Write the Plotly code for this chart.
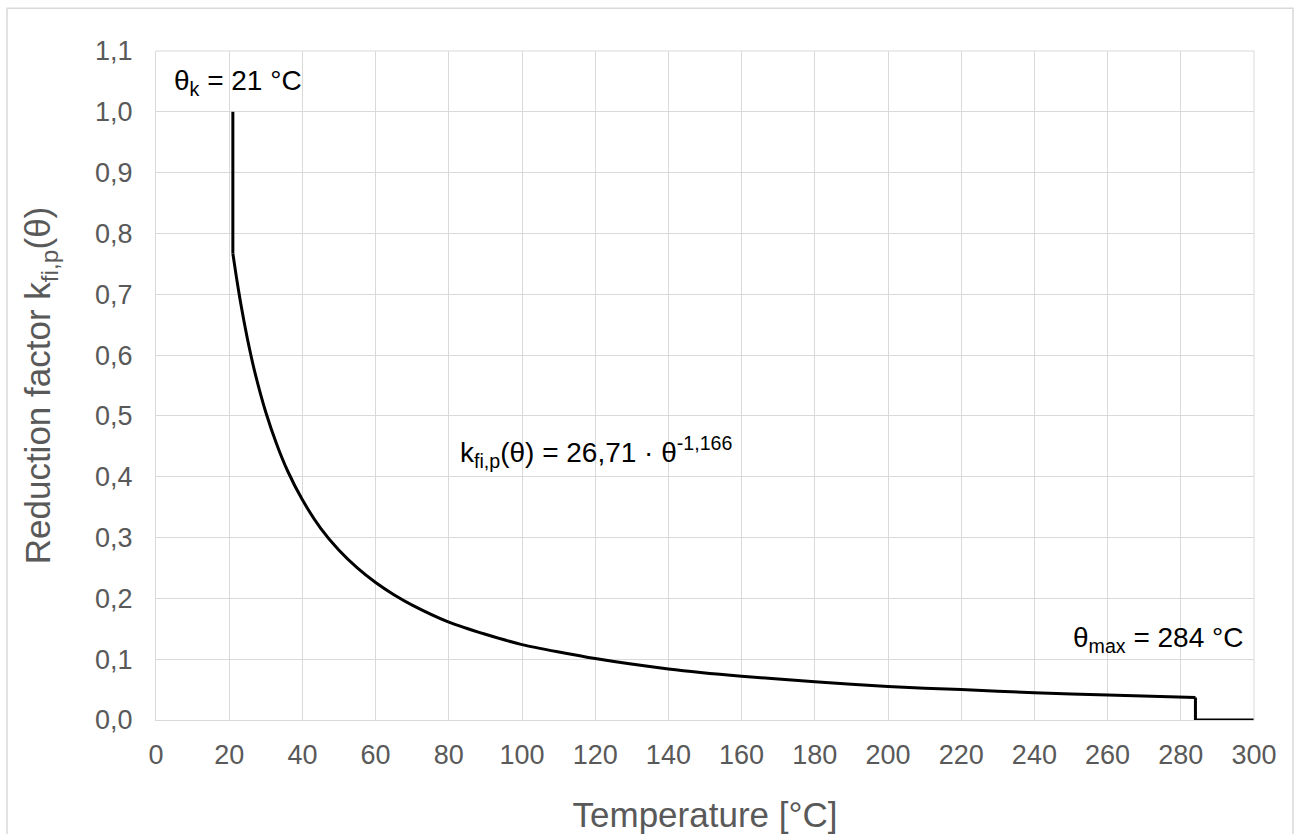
import plotly.graph_objects as go

# values (temperature in °C, reduction factor)
temp = [21, 22, 23, 24, 25, 27, 30, 33, 36, 40, 45, 50, 55, 60, 65, 70, 80, 90,
        100, 120, 140, 160, 180, 200, 220, 240, 260, 284]
k_fi = [0.767, 0.727, 0.690, 0.657, 0.626, 0.572, 0.506, 0.453, 0.409, 0.362,
        0.315, 0.279, 0.250, 0.226, 0.206, 0.189, 0.161, 0.141, 0.124, 0.101,
        0.084, 0.072, 0.063, 0.055, 0.050, 0.045, 0.041, 0.037]

# the vertical jumps at both ends of the curve
theta_k, k_start = 21, 1.0
theta_max, t_end = 284, 300

x_ticks = list(range(0, 301, 20))
y_ticks = [round(i * 0.1, 1) for i in range(12)]

FONT = "Liberation Sans, Arial, sans-serif"
GRID = "#d9d9d9"
TICK = "#595959"

fig = go.Figure()
line = dict(color="black", width=3)

# smooth part
fig.add_trace(go.Scatter(
    x=temp, y=k_fi, mode="lines",
    line=dict(line, shape="spline", smoothing=0.6),
    showlegend=False, hoverinfo="skip",
))
# step at θk
fig.add_trace(go.Scatter(
    x=[theta_k, temp[0]], y=[k_start, k_fi[0]], mode="lines",
    line=line, showlegend=False, hoverinfo="skip",
))
# drop at θmax and zero afterwards
fig.add_trace(go.Scatter(
    x=[temp[-1], theta_max, t_end], y=[k_fi[-1], 0, 0], mode="lines",
    line=line, showlegend=False, hoverinfo="skip",
))

fig.update_layout(
    width=1296,
    height=834,
    margin=dict(l=156, r=42, t=51, b=114),
    paper_bgcolor="white",
    plot_bgcolor="white",
    separators=", ",
    font=dict(family=FONT, color=TICK),
    xaxis=dict(
        range=[0, 300],
        tickvals=x_ticks,
        showgrid=True,
        gridcolor=GRID,
        gridwidth=1,
        zeroline=False,
        showline=True,
        linecolor=GRID,
        ticks="outside",
        ticklen=11,
        tickcolor="rgba(0,0,0,0)",
        tickfont=dict(size=27, color=TICK),
        automargin=False,
        title=dict(text="Temperature [°C]", font=dict(size=35, color=TICK), standoff=33),
    ),
    yaxis=dict(
        range=[0, 1.1],
        tickvals=y_ticks,
        tickformat=".1f",
        showgrid=True,
        gridcolor=GRID,
        gridwidth=1,
        zeroline=False,
        showline=True,
        linecolor=GRID,
        ticks="outside",
        ticklen=17,
        tickcolor="rgba(0,0,0,0)",
        tickfont=dict(size=27, color=TICK),
        automargin=False,
        title=dict(text="Reduction factor k<sub>fi,p</sub>(θ)", font=dict(size=35, color=TICK), standoff=33),
    ),
)

# top/right frame lines of the plot area
fig.add_shape(type="line", xref="paper", yref="paper", x0=0, x1=1, y0=1, y1=1,
              line=dict(color=GRID, width=1))
fig.add_shape(type="line", xref="paper", yref="paper", x0=1, x1=1, y0=0, y1=1,
              line=dict(color=GRID, width=1))

# light border round the whole chart (cut off at the bottom, as in the reference)
fig.add_shape(type="rect", xref="paper", yref="paper",
              x0=-0.1357, x1=1.0355, y0=-0.2, y1=1.064,
              line=dict(color=GRID, width=1.5), layer="below")

ann_font = dict(family=FONT, size=28, color="black")
fig.add_annotation(x=4.5, y=1.048, xref="x", yref="y", xanchor="left", yanchor="middle",
                   text="θ<sub>k</sub> = 21 °C", showarrow=False, font=ann_font)
fig.add_annotation(x=82.5, y=0.44, xref="x", yref="y", xanchor="left", yanchor="middle",
                   text="k<sub>fi,p</sub>(θ) = 26,71 · θ<sup>-1,166</sup>", showarrow=False,
                   font=ann_font)
fig.add_annotation(x=297.5, y=0.132, xref="x", yref="y", xanchor="right", yanchor="middle",
                   text="θ<sub>max</sub> = 284 °C", showarrow=False, font=ann_font)

fig.write_html("out.html", config={"displayModeBar": False},
               post_script="document.body.style.margin='0px';")
